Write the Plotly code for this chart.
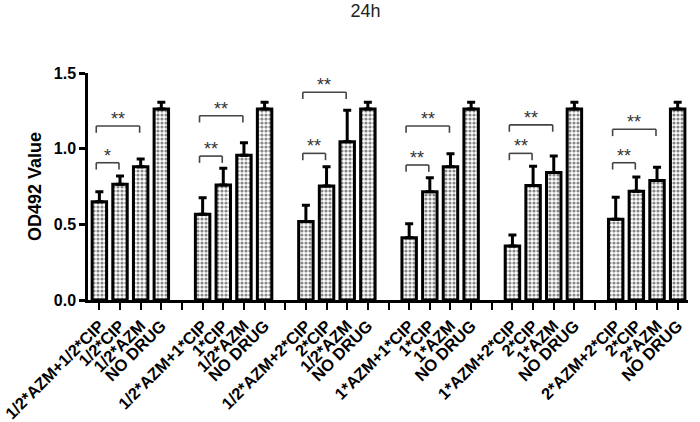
import plotly.graph_objects as go

# Datos (OD492 a 24h)
groups = [
    ["1/2*AZM+1/2*CIP", "1/2*CIP", "1/2*AZM", "NO DRUG"],
    ["1/2*AZM+1*CIP", "1*CIP", "1/2*AZM", "NO DRUG"],
    ["1/2*AZM+2*CIP", "2*CIP", "1/2*AZM", "NO DRUG"],
    ["1*AZM+1*CIP", "1*CIP", "1*AZM", "NO DRUG"],
    ["1*AZM+2*CIP", "2*CIP", "1*AZM", "NO DRUG"],
    ["2*AZM+2*CIP", "2*CIP", "2*AZM", "NO DRUG"],
]
means = [
    [0.65, 0.765, 0.881, 1.262],
    [0.566, 0.76, 0.956, 1.262],
    [0.518, 0.753, 1.046, 1.262],
    [0.412, 0.716, 0.881, 1.262],
    [0.357, 0.756, 0.842, 1.262],
    [0.533, 0.718, 0.789, 1.262],
]
errors = [
    [0.066, 0.055, 0.05, 0.045],
    [0.11, 0.11, 0.083, 0.045],
    [0.108, 0.128, 0.208, 0.045],
    [0.092, 0.092, 0.086, 0.045],
    [0.073, 0.127, 0.11, 0.045],
    [0.146, 0.095, 0.088, 0.045],
]
# corchetes de significancia: (barra 1 vs 2) y (barra 1 vs 3)
short_y = [0.907, 0.951, 0.969, 0.892, 0.969, 0.907]
short_txt = ["*", "**", "**", "**", "**", "**"]
long_y = [1.15, 1.218, 1.373, 1.15, 1.157, 1.128]
long_txt = ["**", "**", "**", "**", "**", "**"]

font = "Liberation Sans, Arial, sans-serif"

# posiciones: 4 barras por grupo + un hueco entre grupos
x, y, err, tickvals, ticktext = [], [], [], [], []
pos = 0
for gi, labels in enumerate(groups):
    for bi, lab in enumerate(labels):
        x.append(pos)
        y.append(means[gi][bi])
        err.append(errors[gi][bi])
        tickvals.append(pos)
        ticktext.append(lab)
        pos += 1
    if gi < len(groups) - 1:
        tickvals.append(pos)
        ticktext.append("")
        pos += 1

fig = go.Figure(go.Bar(
    x=x, y=y, width=0.7,
    marker=dict(color="white",
                line=dict(color="black", width=3),
                pattern=dict(shape=".", fgcolor="#111", bgcolor="white",
                             size=4, solidity=0.5)),
    error_y=dict(type="data", symmetric=False, array=err,
                 arrayminus=[0] * len(err), color="black",
                 thickness=3, width=4),
    showlegend=False,
))

shapes, annotations = [], []
for gi in range(len(groups)):
    x0 = x[gi * 4] - 0.15
    for xe, yy, txt in [(x[gi * 4 + 1] - 0.05, short_y[gi], short_txt[gi]),
                        (x[gi * 4 + 2] - 0.05, long_y[gi], long_txt[gi])]:
        for seg in [(x0, yy, xe, yy), (x0, yy, x0, yy - 0.045), (xe, yy, xe, yy - 0.045)]:
            shapes.append(dict(type="line", xref="x", yref="y",
                               x0=seg[0], y0=seg[1], x1=seg[2], y1=seg[3],
                               line=dict(color="#444", width=1.6)))
        annotations.append(dict(x=(x0 + xe) / 2, y=yy, xref="x", yref="y",
                                text=txt, showarrow=False, yanchor="bottom",
                                yshift=-5, font=dict(family=font, size=18, color="#333")))

fig.update_layout(
    width=700, height=422,
    paper_bgcolor="white", plot_bgcolor="white",
    margin=dict(l=88, r=12, t=73, b=122),
    title=dict(text="24h", x=0.522, xanchor="center", xref="container",
               y=0.99, yanchor="top", yref="container",
               font=dict(family=font, size=18, color="#222")),
    shapes=shapes, annotations=annotations,
    xaxis=dict(range=[-0.55, pos - 1 + 0.5], tickvals=tickvals, ticktext=ticktext,
               tickangle=-45, ticks="outside", ticklen=7, tickwidth=2, tickcolor="black",
               showline=True, linecolor="black", linewidth=2.5, showgrid=False,
               zeroline=False, automargin=False, ticklabeloverflow="allow",
               tickfont=dict(family=font, size=16.5, color="black", weight="bold")),
    yaxis=dict(range=[0, 1.5], tickvals=[0, 0.5, 1.0, 1.5],
               ticktext=["0.0", "0.5", "1.0", "1.5"],
               ticks="outside", ticklen=6, tickwidth=2.5, tickcolor="black",
               showline=True, linecolor="black", linewidth=2.5, showgrid=False,
               zeroline=False, automargin=False,
               title=dict(text="OD492 Value", standoff=8,
                          font=dict(family=font, size=18, color="black", weight="bold")),
               tickfont=dict(family=font, size=16, color="black", weight="bold")),
)

# quitar el margen por defecto del body para que la figura quede en (0, 0)
fig.write_html("out.html", config={"displayModeBar": False},
               post_script="document.body.style.margin='0';")
